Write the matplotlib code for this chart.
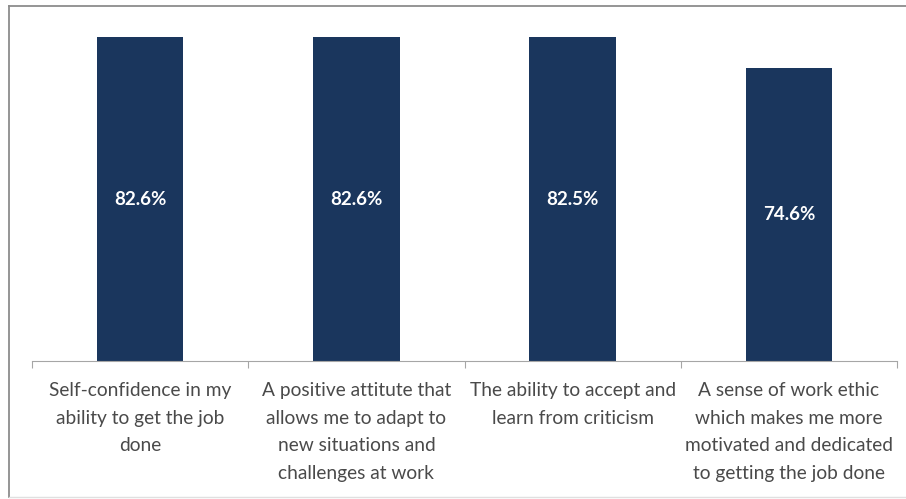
import matplotlib.pyplot as plt

categories = [
    "Self-confidence in my\nability to get the job\ndone",
    "A positive attitute that\nallows me to adapt to\nnew situations and\nchallenges at work",
    "The ability to accept and\nlearn from criticism",
    "A sense of work ethic\nwhich makes me more\nmotivated and dedicated\nto getting the job done",
]
values = [82.6, 82.6, 82.5, 74.6]

W, H = 906, 499
fig = plt.figure(figsize=(W / 100, H / 100), dpi=100)
plt.rcParams['font.family'] = ['Lato', 'DejaVu Sans']

# plot area in pixel terms
left, right, bottom, top = 32, 897, 361, 8
ax = fig.add_axes([left / W, 1 - bottom / H, (right - left) / W, (bottom - top) / H])

x = range(len(values))
bars = ax.bar(x, values, width=0.4, color='#1a365d')
for i, v in enumerate(values):
    ax.text(i, v / 2, f"{v}%", ha='center', va='center', color='white',
            fontsize=13.5, fontweight='bold')

ax.set_xlim(-0.5, len(values) - 0.5)
ax.set_ylim(0, 90)
ax.set_yticks([])
for s in ['top', 'right', 'left']:
    ax.spines[s].set_visible(False)
ax.spines['bottom'].set_color('#a6a6a6')
ax.set_xticks([i - 0.5 for i in range(len(values) + 1)], minor=False)
ax.set_xticklabels([])
ax.tick_params(axis='x', length=5, color='#a6a6a6')

for i, c in enumerate(categories):
    ax.text(i, -5.4, c, ha='center', va='top', fontsize=13.8, color='#4a4a4a',
            linespacing=1.76)

# chart frame: left and top edges dark, bottom faint
tf = fig.transFigure
fig.lines.append(plt.Line2D([8.5 / W, 8.5 / W], [2 / H, 1 - 6 / H], transform=tf,
                            color='#8c8c8c', linewidth=1.3))
fig.lines.append(plt.Line2D([8.5 / W, 1], [1 - 6 / H, 1 - 6 / H], transform=tf,
                            color='#8c8c8c', linewidth=1.3))
fig.lines.append(plt.Line2D([8.5 / W, 1], [2 / H, 2 / H], transform=tf,
                            color='#e0e0e0', linewidth=1))

fig.savefig('out.png', dpi=100, facecolor='white')
